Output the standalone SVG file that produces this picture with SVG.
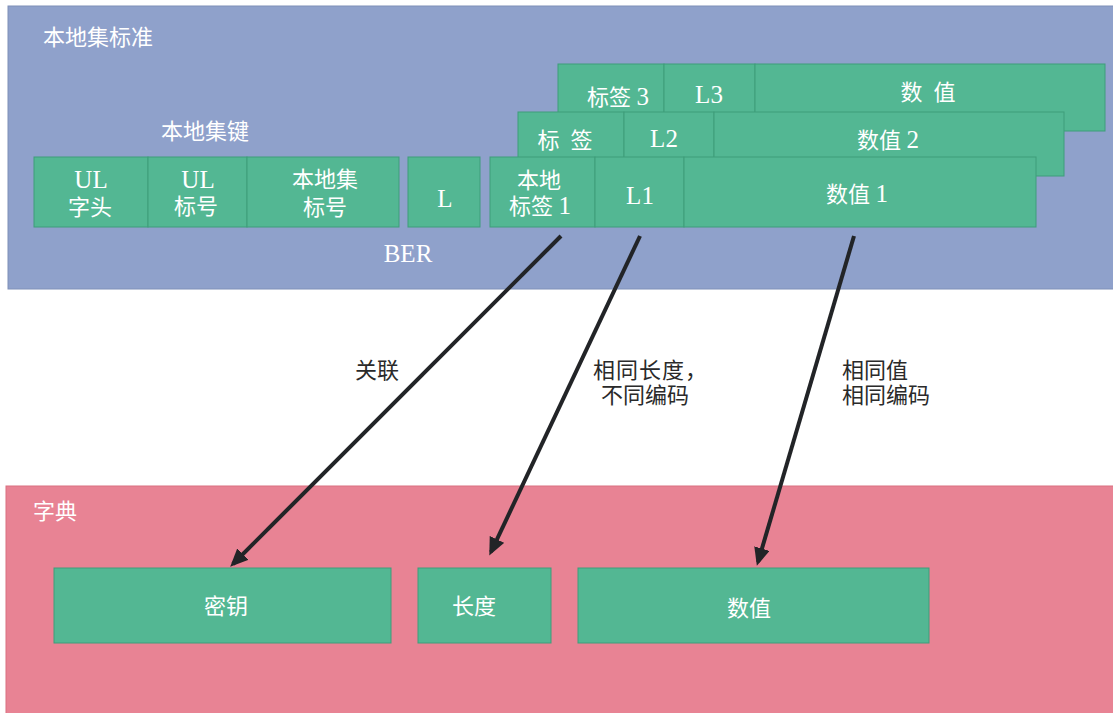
<svg xmlns="http://www.w3.org/2000/svg" width="1113" height="713" viewBox="0 0 1113 713">
<defs>
<style>
.t{font-family:"Liberation Serif","Noto Sans CJK SC",serif;font-size:22px;fill:#ffffff;}
.c{text-anchor:middle;}
.e{font-size:25px;}
.lbl{font-family:"Liberation Serif","Noto Sans CJK SC",serif;font-size:22px;fill:#2a2a2a;}
.box{fill:#53b793;stroke:#3f9d7a;stroke-width:1;}
.conn{stroke:#222427;stroke-width:4;fill:none;marker-end:url(#ah);}
</style>
<marker id="ah" markerWidth="4.5" markerHeight="4" refX="3.5" refY="2" orient="auto" markerUnits="strokeWidth">
<path d="M0,0 L4.5,2 L0,4 Z" fill="#222427"/>
</marker>
</defs>
<rect width="1113" height="713" fill="#ffffff"/>
<g id="panel-standard">
<rect x="8" y="6" width="1110" height="283" fill="#8fa1cb" stroke="#7f90b8" stroke-width="1"/>
<text class="t" x="43" y="45">本地集标准</text>
<text class="t" x="161" y="139">本地集键</text>
<text class="t c e" x="408" y="262">BER</text>
</g>
<g id="panel-dict">
<rect x="6" y="486" width="1110" height="230" fill="#e88394" stroke="#d97080" stroke-width="1"/>
<text class="t" x="33" y="519">字典</text>
</g>
<g id="row3">
<rect class="box" x="558" y="64" width="106" height="67"/>
<rect class="box" x="664" y="64" width="91" height="67"/>
<rect class="box" x="755" y="64" width="350" height="67"/>
<text class="t c" x="618" y="105">标签 <tspan class="e">3</tspan></text>
<text class="t c e" x="709" y="103">L3</text>
<text class="t c" x="928" y="100" xml:space="preserve">数  值</text>
</g>
<g id="row2">
<rect class="box" x="518" y="112" width="106" height="64"/>
<rect class="box" x="624" y="112" width="90" height="64"/>
<rect class="box" x="714" y="112" width="350" height="64"/>
<text class="t c" x="565" y="148" xml:space="preserve">标  签</text>
<text class="t c e" x="664" y="147">L2</text>
<text class="t c" x="888" y="148">数值 <tspan class="e">2</tspan></text>
</g>
<g id="key">
<rect class="box" x="34" y="157" width="114" height="70"/>
<rect class="box" x="148" y="157" width="99" height="70"/>
<rect class="box" x="247" y="157" width="152" height="70"/>
<text class="t c e" x="91" y="188">UL</text>
<text class="t c" x="90" y="215">字头</text>
<text class="t c e" x="198" y="188">UL</text>
<text class="t c" x="196" y="214">标号</text>
<text class="t c" x="325" y="187">本地集</text>
<text class="t c" x="325" y="215">标号</text>
</g>
<g id="len">
<rect class="box" x="408" y="157" width="72" height="70"/>
<text class="t c e" x="445" y="207">L</text>
</g>
<g id="row1">
<rect class="box" x="490" y="157" width="105" height="70"/>
<rect class="box" x="595" y="157" width="89" height="70"/>
<rect class="box" x="684" y="157" width="352" height="70"/>
<text class="t c" x="539" y="188">本地</text>
<text class="t c" x="540" y="214">标签 <tspan class="e">1</tspan></text>
<text class="t c e" x="640" y="204">L1</text>
<text class="t c" x="857" y="202">数值 <tspan class="e">1</tspan></text>
</g>
<g id="dict-key">
<rect class="box" x="54" y="568" width="337" height="75"/>
<text class="t c" x="226" y="614">密钥</text>
</g>
<g id="dict-len">
<rect class="box" x="418" y="568" width="133" height="75"/>
<text class="t c" x="474" y="614">长度</text>
</g>
<g id="dict-val">
<rect class="box" x="578" y="568" width="351" height="75"/>
<text class="t c" x="749" y="616">数值</text>
</g>
<g id="connectors">
<line class="conn" x1="561" y1="236" x2="233" y2="564"/>
<line class="conn" x1="640" y1="236" x2="491" y2="552"/>
<line class="conn" x1="854" y1="236" x2="758" y2="562"/>
</g>
<g id="labels">
<text class="lbl" x="355" y="378">关联</text>
<text class="lbl" x="593" y="378" letter-spacing="1">相同长度，</text>
<text class="lbl" x="601" y="403">不同编码</text>
<text class="lbl" x="842" y="378">相同值</text>
<text class="lbl" x="842" y="403">相同编码</text>
</g>
</svg>
